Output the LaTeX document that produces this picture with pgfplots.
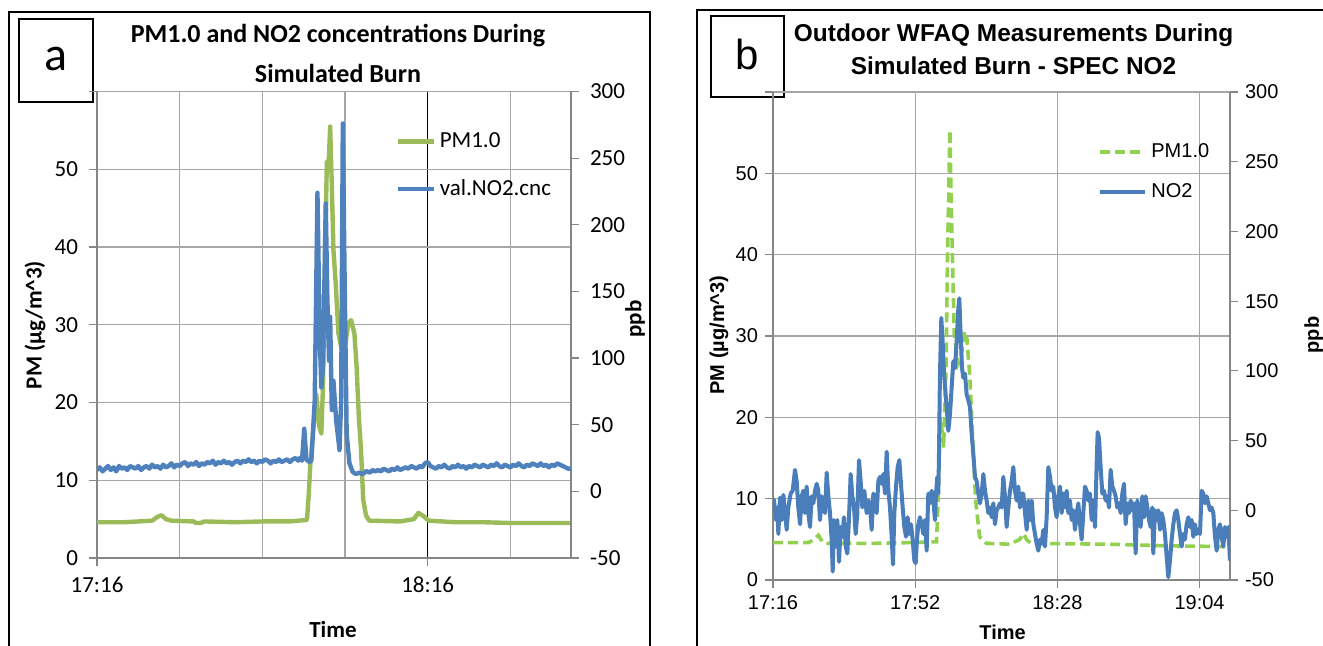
\documentclass[border=0pt]{standalone}
\usepackage{fontspec}
\usepackage{pgfplots}
\pgfplotsset{compat=1.18}
\newfontfamily\carlito{Carlito}
\newfontfamily\arial{Liberation Sans}
\definecolor{agreen}{HTML}{9BBB59}
\definecolor{ablue}{HTML}{4F81BD}
\definecolor{bgreen}{HTML}{92D050}
\definecolor{bblue}{HTML}{4A7EBB}
\definecolor{gridgray}{HTML}{A6A6A6}
\definecolor{axgray}{HTML}{868686}

\pgfplotsset{
  common/.style={
    scale only axis, anchor=south west,
    tick align=outside, major tick length=4pt, minor tick length=0pt,
    axis line style={draw=axgray, line width=0.6pt},
    tick style={draw=axgray, line width=0.6pt},
    legend style={draw=none, fill=none},
    legend cell align=left,
  },
}

\begin{document}
\begin{tikzpicture}
\useasboundingbox (0pt,0pt) rectangle (661.5pt,323pt);

% outer frames and panel letters
\draw[line width=1pt] (4.5pt,-5pt) -- (4.5pt,317pt) -- (325pt,317pt) -- (325pt,-5pt);
\draw[line width=1pt] (348.5pt,-5pt) -- (348.5pt,318pt) -- (670pt,318pt);
\draw[line width=1pt] (9.5pt,272pt) rectangle (46.5pt,313.5pt);
\node[font=\carlito\fontsize{24}{24}\selectfont] at (28pt,293.5pt) {a};
\draw[line width=1pt] (355.5pt,274.5pt) rectangle (392pt,315pt);
\node[font=\arial\fontsize{21}{21}\selectfont] at (373.75pt,295.5pt) {b};

% ---------- panel a ----------
\node[font=\carlito\bfseries\fontsize{13}{20}\selectfont, align=center] at (169pt,296.5pt)
  {PM1.0 and NO2 concentrations During\\Simulated Burn};
\node[font=\carlito\bfseries\fontsize{11.5}{12}\selectfont] at (166.5pt,8pt) {Time};
\node[font=\carlito\bfseries\fontsize{11.5}{12}\selectfont, rotate=90] at (17.5pt,160.5pt) {PM (µg/m\textasciicircum 3)};
\node[font=\carlito\bfseries\fontsize{11.5}{12}\selectfont, rotate=90] at (317.5pt,163.5pt) {ppb};

\begin{axis}[common, at={(48.5pt,44pt)}, width=237pt, height=233.25pt,
  axis y line*=left, axis x line*=bottom,
  xmin=0, xmax=86, ymin=0, ymax=60,
  xtick={0,60}, xticklabels={17:16,18:16}, minor xtick={15,30,45,75},
  ytick={0,10,...,60}, yticklabels={0,10,20,30,40,50,},
  xmajorgrids, xminorgrids, ymajorgrids,
  major x grid style={black, line width=0.6pt},
  minor x grid style={gridgray, line width=0.6pt},
  major y grid style={gridgray, line width=0.6pt},
  ticklabel style={font=\carlito\fontsize{11.5}{12}\selectfont},
  xticklabel style={yshift=-2pt},
  yticklabel style={xshift=-2pt},
]
\addplot[agreen, line width=2.2pt, line join=round] coordinates {
(0,4.6)(5,4.6)(10,4.8)(11,5.3)(11.7,5.5)(12.5,5.0)(13.5,4.8)(17.5,4.7)(18,4.5)(18.8,4.5)(19.5,4.7)
(25,4.6)(30,4.7)(35,4.7)(38.1,4.9)(38.4,8)(38.7,12)(39.3,17)(39.8,21)(40.3,17)(40.7,16)
(41.0,22)(41.3,35)(41.7,51)(42.0,50)(42.3,55.5)(42.6,48)(42.9,39.6)(43.3,35.4)(43.8,28.9)
(44.4,26.8)(45.0,27.2)(45.6,30.2)(46.1,30.6)(46.7,28.9)(47.1,24.6)(47.5,18.2)(47.9,13.9)
(48.3,7.5)(48.8,5.5)(49.4,4.8)(55,4.7)(57.5,5.0)(58.3,5.8)(59.2,5.4)(60.2,4.8)(65,4.6)
(70,4.6)(75,4.5)(80,4.5)(86,4.5)
};
\end{axis}

\begin{axis}[common, at={(48.5pt,44pt)}, width=237pt, height=233.25pt,
  axis y line*=right, axis x line=none,
  xmin=0, xmax=86, ymin=-50, ymax=300,
  ytick={-50,0,...,300}, yticklabels={-50,0,50,100,150,200,250,300},
  ticklabel style={font=\carlito\fontsize{11.5}{12}\selectfont},
  yticklabel style={xshift=2pt},
  legend style={at={(0.616,0.93)}, anchor=north west,
    font=\carlito\fontsize{11.5}{12}\selectfont, row sep=10.5pt},
  legend image code/.code={\draw[#1] (0pt,0pt) -- (18pt,0pt);},
]
\addlegendimage{agreen, line width=2.2pt}
\addlegendentry{PM1.0}
\addplot[ablue, line width=2.2pt, line join=round] coordinates {
(0,16)(0.5,18)(1,15)(1.5,17)(2,19)(2.5,16)(3,18)(3.5,15)(4,19)(4.5,17)(5,18)(5.5,16)
(6,19)(6.5,18)(7,17)(7.5,19)(8,16)(8.5,18)(9,19)(9.5,17)(10,20)(10.5,18)(11,19)(11.5,17)
(12,20)(12.5,18)(13,19)(13.5,21)(14,18)(14.5,20)(15,19)(15.5,21)(16,22)(16.5,19)(17,21)
(17.5,20)(18,22)(18.5,19)(19,21)(19.5,20)(20,22)(20.5,21)(21,23)(21.5,20)(22,22)(22.5,21)
(23,23)(23.5,21)(24,22)(24.5,20)(25,22)(25.5,23)(26,21)(26.5,23)(27,22)(27.5,24)(28,22)
(28.5,23)(29,21)(29.5,23)(30,22)(30.5,24)(31,23)(31.5,21)(32,23)(32.5,22)(33,24)(33.5,22)
(34,23)(34.5,24)(35,22)(35.5,24)(36,25)(36.5,23)(36.8,25)(37.2,23)(37.6,47)(38.0,24)
(38.5,22)(38.9,23)(39.5,68)(40.0,224)(40.4,119)(40.7,78)(41.0,93)(41.5,216)(41.8,144)
(42.1,98)(42.3,131)(42.6,61)(42.9,83)(43.4,53)(44.0,31)(44.3,68)(44.6,276)(44.9,169)
(45.3,43)(45.8,21)(46.4,14.5)(47.0,13)(47.6,14)(48.2,13)(48.8,15)(49,15)(49.5,14)(50,16)
(50.5,15)(51,16)(51.5,15)(52,17)(52.5,16)(53,15)(53.5,17)(54,16)(54.5,18)(55,16)(55.5,17)
(56,18)(56.5,17)(57,19)(57.5,18)(58,17)(58.5,19)(59,18)(59.5,21)(60,22)(60.5,19)(61,18)
(61.5,17)(62,19)(62.5,18)(63,20)(63.5,18)(64,17)(64.5,19)(65,18)(65.5,20)(66,18)(66.5,19)
(67,17)(67.5,19)(68,18)(68.5,20)(69,19)(69.5,18)(70,20)(70.5,19)(71,18)(71.5,20)(72,19)
(72.5,21)(73,19)(73.5,18)(74,20)(74.5,19)(75,18)(75.5,20)(76,19)(76.5,21)(77,19)(77.5,18)
(78,20)(78.5,19)(79,21)(79.5,20)(80,19)(80.5,21)(81,19)(81.5,20)(82,18)(82.5,20)(83,19)
(83.5,21)(84,20)(84.5,19)(85,18)(85.5,17)(86,17)
};
\addlegendentry{val.NO2.cnc}
\end{axis}

% ---------- panel b ----------
\node[font=\arial\bfseries\fontsize{12.2}{16.5}\selectfont, align=center] at (506.8pt,298.5pt)
  {Outdoor WFAQ Measurements During\\Simulated Burn - SPEC NO2};
\node[font=\arial\bfseries\fontsize{10}{12}\selectfont] at (501.3pt,7pt) {Time};
\node[font=\arial\bfseries\fontsize{10}{12}\selectfont, rotate=90] at (359.5pt,155.5pt) {PM (µg/m\textasciicircum 3)};
\node[font=\arial\bfseries\fontsize{10}{12}\selectfont, rotate=90] at (656.8pt,155.5pt) {ppb};

\begin{axis}[common, at={(386.5pt,33pt)}, width=228.5pt, height=244pt,
  axis y line*=left, axis x line*=bottom,
  xmin=0, xmax=115.7, ymin=0, ymax=60,
  xtick={0,36,72,108}, xticklabels={17:16,17:52,18:28,19:04},
  ytick={0,10,...,60}, yticklabels={0,10,20,30,40,50,},
  xmajorgrids, ymajorgrids,
  major grid style={gridgray, line width=0.6pt},
  ticklabel style={font=\arial\fontsize{10}{12}\selectfont},
]
\addplot[bgreen, line width=1.8pt, dash pattern=on 5pt off 2.5pt] coordinates {
(0,4.6)(9,4.6)(10.5,5.0)(11.5,5.5)(12.5,4.7)(13.5,4.5)(25,4.5)(35,4.6)(41.4,4.7)(41.8,9.8)
(42.3,20)(42.9,18)(43.2,16.3)(43.8,26)(44.2,40.4)(44.6,50.6)(44.8,55.3)(45.1,46.5)
(45.5,38.3)(45.9,30.2)(46.8,26.5)(47.6,27.3)(48.5,30.6)(49.1,29.6)(49.8,25.3)(50.5,18)
(51.3,9.8)(52.3,5.3)(54,4.5)(60,4.4)(62.5,5.0)(63.4,5.7)(64.3,4.9)(65.5,4.5)(85,4.4)
(100,4.2)(115.7,4.1)
};
\end{axis}

\begin{axis}[common, at={(386.5pt,33pt)}, width=228.5pt, height=244pt,
  axis y line*=right, axis x line=none,
  xmin=0, xmax=115.7, ymin=-50, ymax=300,
  ytick={-50,0,...,300}, yticklabels={-50,0,50,100,150,200,250,300},
  ticklabel style={font=\arial\fontsize{10}{12}\selectfont},
  legend style={at={(0.698,0.912)}, anchor=north west,
    font=\arial\fontsize{10}{12}\selectfont, row sep=7.5pt},
  legend image code/.code={\draw[#1] (0pt,0pt) -- (22.5pt,0pt);},
]
\addlegendimage{bgreen, line width=1.8pt, dash pattern=on 5pt off 2.5pt}
\addlegendentry{PM1.0}
\addplot[bblue, line width=2pt, line join=round] coordinates {
(0,8)(0.25,7)(0.76,-7)(1.10,2)(1.35,-17)(1.77,9)(2.19,-7)(2.62,11)(3.04,-2)(3.46,-14)
(3.88,2)(4.47,12)(4.98,14)(5.57,29)(5.99,21)(6.41,2)(6.84,-10)(7.26,10)(7.68,14)(8.10,-2)
(8.52,17)(8.95,-2)(9.37,-12)(9.79,10)(10.21,5)(10.63,14)(11.06,19)(11.48,14)(11.90,-7)
(12.32,10)(12.74,5)(13.17,-2)(13.59,27)(14.01,10)(14.43,-2)(14.85,-21)(15.11,-44)
(15.44,-7)(15.87,-26)(16.29,-7)(16.71,-37)(17.13,-12)(17.55,-19)(17.97,-5)(18.40,-26)
(18.82,-31)(19.24,-5)(19.66,26)(20.08,10)(20.51,2)(20.93,-17)(21.35,-2)(21.77,36)
(22.19,21)(22.62,2)(23.12,14)(23.71,-2)(24.22,7)(24.56,2)(24.98,-14)(25.40,12)(25.82,7)
(26.24,-2)(26.67,21)(27.09,24)(27.51,19)(27.93,26)(28.35,12)(28.78,42)(29.20,14)(29.62,2)
(30.04,-19)(30.38,-39)(30.72,-2)(31.14,17)(31.56,31)(31.98,36)(32.40,19)(32.83,2)
(33.25,-12)(33.67,-19)(34.09,-5)(34.51,-17)(34.94,-10)(35.36,-21)(35.78,-36)(36.12,-38)
(36.45,-21)(36.79,-10)(37.21,-5)(37.64,-10)(38.06,-17)(38.48,-7)(38.90,-29)(39.32,12)
(39.75,5)(40.17,14)(40.59,7)(41.01,-7)(41.27,12)(41.60,24)(41.86,12)(42.05,45)(42.25,95)
(42.61,138)(42.95,121)(43.29,98)(43.63,86)(43.96,74)(44.39,57)(44.81,69)(45.23,88)
(45.65,107)(46.07,102)(46.50,121)(46.92,145)(47.17,152)(47.51,126)(47.85,102)(48.18,95)
(48.61,98)(49.03,83)(49.45,79)(49.87,74)(50.29,55)(50.72,40)(51.14,24)(51.56,21)
(51.98,12)(52.40,5)(52.83,12)(53.25,26)(53.67,14)(54.09,7)(54.51,-2)(54.94,2)(55.36,-5)
(55.78,5)(56.20,-10)(56.62,0)(57.04,2)(57.47,5)(57.89,2)(58.31,24)(58.73,10)(59.15,-12)
(59.58,2)(60.00,14)(60.42,21)(60.84,31)(61.26,14)(61.69,7)(62.11,17)(62.53,2)(62.95,12)
(63.37,12)(63.80,-2)(64.22,-14)(64.64,7)(65.06,-7)(65.48,7)(65.91,-10)(66.33,-17)
(66.75,-24)(67.17,-29)(67.59,-21)(68.02,-24)(68.44,-14)(68.86,-26)(69.28,-5)(69.70,31)
(70.13,24)(70.55,14)(70.97,17)(71.39,2)(71.81,-5)(72.23,10)(72.66,17)(73.08,-2)(73.50,12)
(73.92,2)(74.34,14)(74.77,-2)(75.19,7)(75.61,-7)(76.03,0)(76.45,-14)(76.88,-2)(77.30,5)
(77.72,-10)(78.14,-21)(78.56,-2)(78.99,17)(79.41,14)(79.83,7)(80.25,12)(80.67,-7)
(81.09,7)(81.52,-12)(81.94,33)(82.19,56)(82.53,52)(82.95,31)(83.37,12)(83.80,14)
(84.22,7)(84.64,10)(85.06,2)(85.48,29)(85.91,17)(86.33,14)(86.75,10)(87.17,2)(87.59,5)
(88.02,-2)(88.44,12)(88.86,19)(89.28,-10)(89.70,5)(90.13,-2)(90.55,7)(90.97,0)(91.39,5)
(91.81,-31)(92.23,7)(92.66,-2)(93.08,-12)(93.50,10)(93.92,-5)(94.34,10)(94.77,2)
(95.19,-7)(95.61,-12)(96.03,2)(96.28,-31)(96.71,0)(97.13,-7)(97.55,0)(97.97,-14)
(98.39,-2)(98.82,-7)(99.24,-17)(99.66,-33)(100.08,-48)(100.50,-36)(100.93,-21)
(101.35,-10)(101.77,-2)(102.19,0)(102.61,-7)(103.04,-17)(103.46,-26)(103.88,-17)
(104.30,-21)(104.72,-10)(105.15,-5)(105.57,-12)(105.99,-7)(106.41,-19)(106.83,-10)
(107.26,-17)(107.68,-14)(108.10,-17)(108.52,14)(108.94,12)(109.37,5)(109.79,10)
(110.21,5)(110.63,0)(111.05,2)(111.48,-2)(111.90,-19)(112.32,-29)(112.74,-14)
(113.16,-10)(113.59,-19)(114.01,-26)(114.43,-12)(114.85,-19)(115.27,-12)(115.70,-36)
};
\addlegendentry{NO2}
\end{axis}
\end{tikzpicture}
\end{document}
